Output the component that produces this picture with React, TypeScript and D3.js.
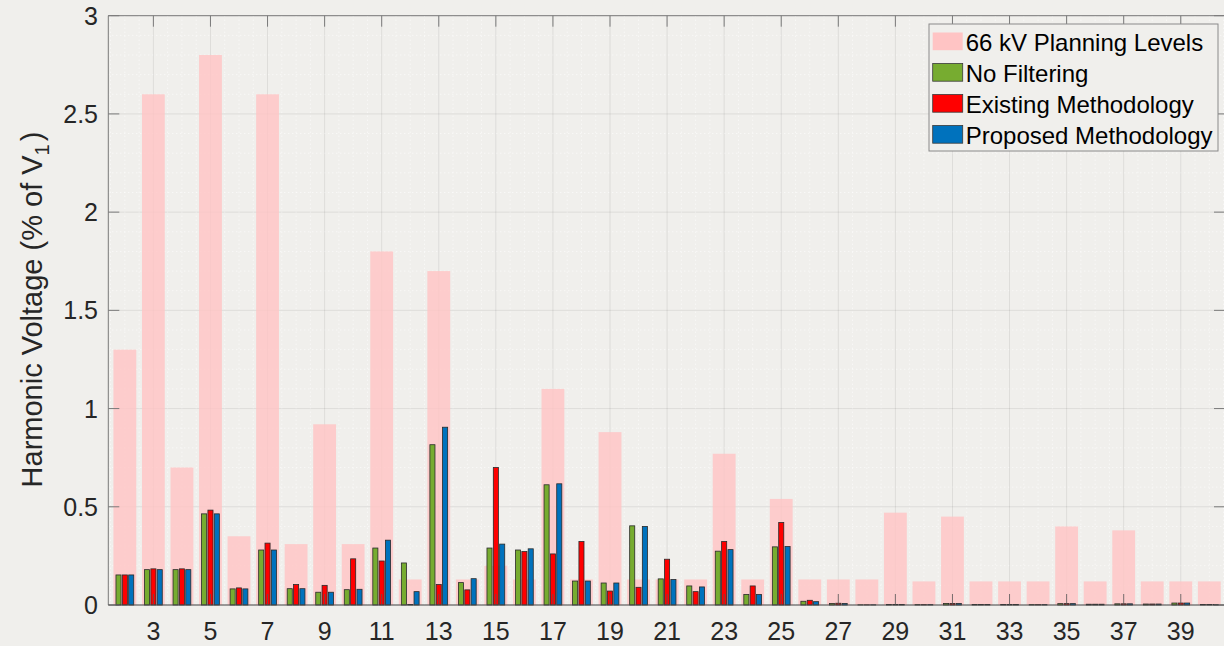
import * as d3 from "d3";

// harmonic orders on the x axis
const harmonics = [2, 3, 4, 5, 6, 7, 8, 9, 10, 11, 12, 13, 14, 15, 16, 17, 18, 19, 20, 21, 22, 23, 24, 25, 26, 27, 28, 29, 30, 31, 32, 33, 34, 35, 36, 37, 38, 39, 40];

// 66 kV planning levels (% of V1)
const planningLevels = [1.3, 2.6, 0.7, 2.8, 0.35, 2.6, 0.31, 0.92, 0.31, 1.8, 0.13, 1.7, 0.13, 0.2, 0.13, 1.1, 0.13, 0.88, 0.13, 0.13, 0.13, 0.77, 0.13, 0.54, 0.13, 0.13, 0.13, 0.47, 0.12, 0.45, 0.12, 0.12, 0.12, 0.4, 0.12, 0.38, 0.12, 0.12, 0.12];

const noFiltering = [0.153, 0.18, 0.18, 0.464, 0.082, 0.28, 0.083, 0.065, 0.078, 0.29, 0.214, 0.816, 0.114, 0.29, 0.28, 0.612, 0.122, 0.112, 0.403, 0.133, 0.097, 0.274, 0.054, 0.296, 0.019, 0.008, 0.001, 0.003, 0.002, 0.008, 0.003, 0.003, 0.002, 0.007, 0.004, 0.006, 0.005, 0.01, 0.003];

const existingMethod = [0.153, 0.184, 0.184, 0.483, 0.087, 0.315, 0.104, 0.1, 0.235, 0.224, 0.003, 0.104, 0.077, 0.7, 0.272, 0.26, 0.323, 0.071, 0.09, 0.233, 0.068, 0.323, 0.097, 0.42, 0.024, 0.009, 0.001, 0.003, 0.002, 0.008, 0.003, 0.003, 0.002, 0.007, 0.004, 0.006, 0.005, 0.01, 0.003];

const proposedMethod = [0.153, 0.18, 0.18, 0.464, 0.082, 0.28, 0.083, 0.065, 0.08, 0.33, 0.068, 0.905, 0.134, 0.31, 0.286, 0.617, 0.122, 0.112, 0.4, 0.13, 0.092, 0.282, 0.054, 0.298, 0.017, 0.008, 0.001, 0.003, 0.002, 0.008, 0.003, 0.003, 0.002, 0.007, 0.004, 0.006, 0.005, 0.01, 0.003];

const xTickValues = [3, 5, 7, 9, 11, 13, 15, 17, 19, 21, 23, 25, 27, 29, 31, 33, 35, 37, 39];
const yTickValues = [0, 0.5, 1, 1.5, 2, 2.5, 3];

const seriesNames = ["66 kV Planning Levels", "No Filtering", "Existing Methodology", "Proposed Methodology"];

const W = 1224;
const H = 646;
const BG = "#f0efec";
const PINK = "#ffc4c4";
const COLORS = ["#77ac30", "#ff0000", "#0072bd"];
const FONT = "'Liberation Sans', Arial, sans-serif";

const PLOT = { left: 108.3, right: 1225, top: 15.7, bottom: 605 };

export default function App() {
  const x = d3.scaleLinear().domain([1.42, 40.55]).range([PLOT.left, PLOT.right]);
  const y = d3.scaleLinear().domain([0, 3]).range([PLOT.bottom, PLOT.top]);
  const unit = x(1) - x(0);

  const groups = [noFiltering, existingMethod, proposedMethod];
  const offsets = [-0.2222, 0, 0.2222];
  const barW = 0.178 * unit;
  const pinkW = 0.8 * unit;

  // minor grid every 0.5 harmonic, every 0.1 on y
  const minorX = d3.range(1.5, 40.51, 0.5).filter((v) => !xTickValues.includes(v));
  const minorY = y.ticks(30).filter((v) => Math.abs(v * 2 - Math.round(v * 2)) > 1e-6);

  const tickLen = 11;

  return (
    <svg
      width={W}
      height={H}
      style={{ position: "absolute", left: 0, top: 0, display: "block", background: BG }}
      fontFamily={FONT}
    >
      <rect x={0} y={0} width={W} height={H} fill={BG} />

      {/* grid under the bars */}
      <g>
        {minorX.map((v) => (
          <line key={"mx" + v} x1={x(v)} x2={x(v)} y1={PLOT.top} y2={PLOT.bottom}
            stroke="#ffffff" strokeOpacity={0.8} strokeDasharray="1,3" />
        ))}
        {minorY.map((v) => (
          <line key={"my" + v} x1={PLOT.left} x2={PLOT.right} y1={y(v)} y2={y(v)}
            stroke="#ffffff" strokeOpacity={0.8} strokeDasharray="1,3" />
        ))}
        {xTickValues.map((v) => (
          <line key={"gx" + v} x1={x(v)} x2={x(v)} y1={PLOT.top} y2={PLOT.bottom}
            stroke="#000" strokeOpacity={0.08} />
        ))}
        {yTickValues.map((v) => (
          <line key={"gy" + v} x1={PLOT.left} x2={PLOT.right} y1={y(v)} y2={y(v)}
            stroke="#000" strokeOpacity={0.08} />
        ))}
      </g>

      {/* planning levels, slightly see-through */}
      {harmonics.map((h, i) => (
        <rect
          key={"p" + h}
          x={x(h) - pinkW / 2}
          y={y(planningLevels[i])}
          width={pinkW}
          height={y(0) - y(planningLevels[i])}
          fill={PINK}
          fillOpacity={0.82}
        />
      ))}

      {/* grouped bars */}
      {groups.map((vals, g) =>
        harmonics.map((h, i) => (
          <rect
            key={g + "-" + h}
            x={x(h + offsets[g]) - barW / 2}
            y={y(vals[i])}
            width={barW}
            height={y(0) - y(vals[i])}
            fill={COLORS[g]}
            stroke="#2a2a2a"
            strokeWidth={0.8}
          />
        ))
      )}

      {/* axes box and ticks */}
      <g stroke="#7a7a7a" strokeWidth={1}>
        <line x1={PLOT.left} x2={PLOT.right} y1={PLOT.top} y2={PLOT.top} />
        <line x1={PLOT.left} x2={PLOT.left} y1={PLOT.top} y2={PLOT.bottom} />
        <line x1={PLOT.right} x2={PLOT.right} y1={PLOT.top} y2={PLOT.bottom} />
        {xTickValues.map((v) => (
          <g key={"tx" + v}>
            <line x1={x(v)} x2={x(v)} y1={PLOT.bottom} y2={PLOT.bottom - tickLen} stroke="#555" strokeOpacity={0.8} />
            <line x1={x(v)} x2={x(v)} y1={PLOT.top} y2={PLOT.top + tickLen} />
          </g>
        ))}
        {yTickValues.map((v) => (
          <g key={"ty" + v}>
            <line x1={PLOT.left} x2={PLOT.left + tickLen} y1={y(v)} y2={y(v)} />
            <line x1={PLOT.right} x2={PLOT.right - tickLen} y1={y(v)} y2={y(v)} />
          </g>
        ))}
      </g>
      <line x1={PLOT.left} x2={PLOT.right} y1={PLOT.bottom} y2={PLOT.bottom} stroke="#4a4a4a" strokeWidth={1.2} />

      {/* tick labels */}
      <g fill="#262626" fontSize={25}>
        {xTickValues.map((v) => (
          <text key={"lx" + v} x={x(v)} y={640} textAnchor="middle">{v}</text>
        ))}
        {yTickValues.map((v) => (
          <text key={"ly" + v} x={98} y={y(v)} textAnchor="end" dominantBaseline="central">{String(v)}</text>
        ))}
      </g>

      {/* y label */}
      <text
        transform={`translate(41.7, ${(129 + 490) / 2}) rotate(-90)`}
        textAnchor="middle"
        fontSize={29}
        fill="#262626"
      >
        Harmonic Voltage (% of V<tspan fontSize={20} dy={7}>1</tspan><tspan dy={-7} dx={3}>)</tspan>
      </text>

      {/* legend */}
      <g>
        <rect x={929} y={24} width={289} height={127} fill={BG} stroke="#8a8a8a" strokeWidth={1} />
        {seriesNames.map((name, i) => {
          const base = 50.5 + i * 31;
          return (
            <g key={name}>
              <rect
                x={932.7}
                y={base - 18}
                width={30}
                height={17.7}
                fill={i === 0 ? PINK : COLORS[i - 1]}
                stroke={i === 0 ? "none" : "#3a3a3a"}
                strokeWidth={0.8}
              />
              <text x={965.7} y={base} fontSize={24} fill="#000">{name}</text>
            </g>
          );
        })}
      </g>
    </svg>
  );
}
